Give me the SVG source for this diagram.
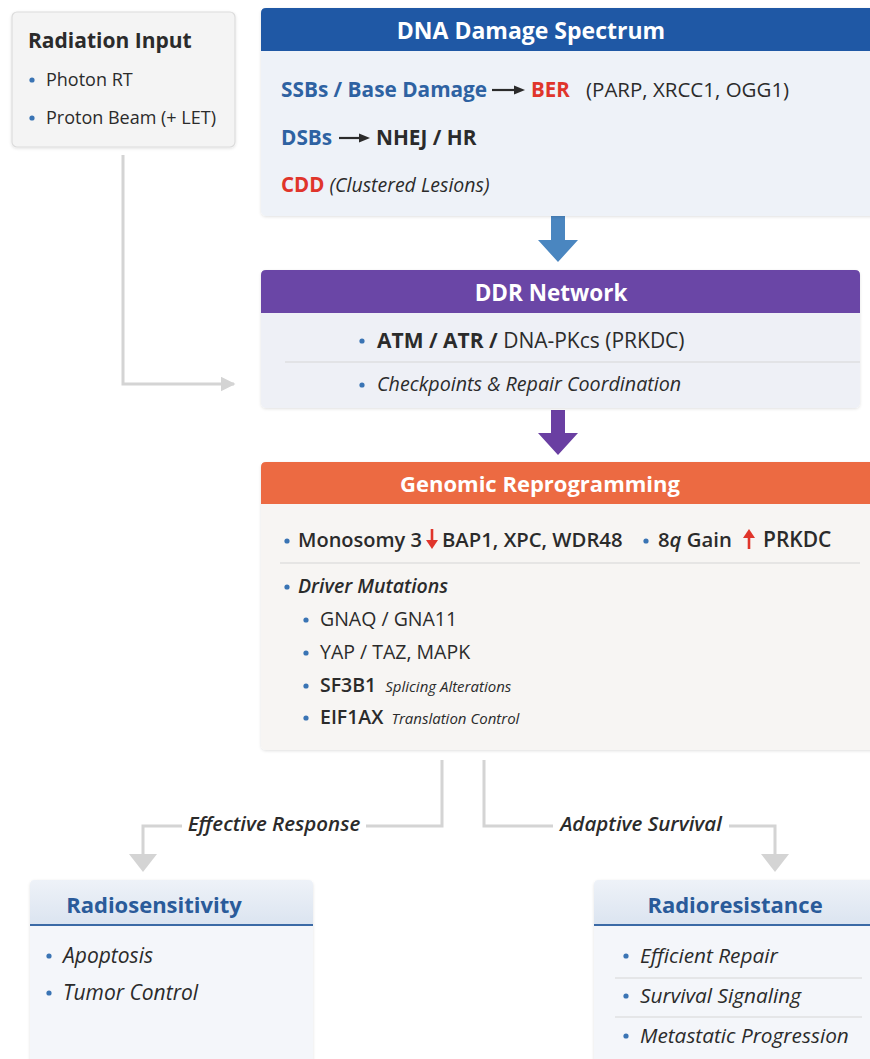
<svg xmlns="http://www.w3.org/2000/svg" width="870" height="1059" viewBox="0 0 870 1059">
<defs>
<style>
text{font-family:"Open Sans","Noto Sans","Liberation Sans",sans-serif;fill:#2b2b2b}
.b{font-weight:700}
.sb{font-weight:600}
.i{font-style:italic}
.hd{fill:#fff;font-weight:700}
.blue{fill:#2e62a2}
.red{fill:#e0352b}
.bul{fill:#3a74b4}
.conn{fill:none;stroke:#d4d4d4;stroke-width:3}
.sep{stroke:#d6d6d6;stroke-width:1.2}
</style>
<linearGradient id="hgrad" x1="0" y1="0" x2="0" y2="1">
<stop offset="0" stop-color="#eef2f8"/><stop offset="1" stop-color="#dbe4f0"/>
</linearGradient>
<filter id="sh" x="-5%" y="-5%" width="110%" height="115%">
<feDropShadow dx="0" dy="1" stdDeviation="1.5" flood-color="#000" flood-opacity="0.12"/>
</filter>
<marker id="ah" viewBox="0 0 10 10" refX="9" refY="5" markerWidth="5" markerHeight="5" orient="auto" markerUnits="strokeWidth">
<path d="M0,0 L10,5 L0,10 z" fill="#d4d4d4"/>
</marker>
</defs>
<rect width="870" height="1059" fill="#ffffff"/>

<g id="connectors">
<polyline class="conn" points="123,155 123,384 234,384" marker-end="url(#ah)"/>
<polyline class="conn" points="442,760 442,826 366,826"/>
<polyline class="conn" points="182,826 143,826 143,856"/>
<path d="M129,854 L157,854 L143,872 z" fill="#d4d4d4"/>
<polyline class="conn" points="484,760 484,826 553,826"/>
<polyline class="conn" points="729,826 775,826 775,856"/>
<path d="M761,854 L789,854 L775,872 z" fill="#d4d4d4"/>
<text x="274" y="831" class="i sb" font-size="20.5" text-anchor="middle">Effective Response</text>
<text x="641" y="831" class="i sb" font-size="20.5" text-anchor="middle">Adaptive Survival</text>
<path d="M551,216 L565,216 L565,240 L578,240 L558,262 L538,240 L551,240 z" fill="#4a86c0"/>
<path d="M551,410 L565,410 L565,433 L578,433 L558,455 L538,433 L551,433 z" fill="#6a3fa2"/>
</g>

<g id="radiation-input">
<rect x="12" y="12" width="223" height="135" rx="5" fill="#f4f4f4" stroke="#dcdcdc" stroke-width="1.2" filter="url(#sh)"/>
<text x="28" y="48" class="b" font-size="21">Radiation Input</text>
<circle cx="32" cy="80" r="2.6" class="bul"/>
<text x="46" y="86" font-size="18">Photon RT</text>
<circle cx="32" cy="118" r="2.6" class="bul"/>
<text x="46" y="124" font-size="18">Proton Beam (+ LET)</text>
</g>

<g id="dna-damage">
<rect x="261" y="8" width="620" height="208" rx="5" fill="#eef2f8" filter="url(#sh)"/>
<path d="M261,51 L261,13 Q261,8 266,8 L870,8 L870,51 z" fill="#1f58a5"/>
<text x="531" y="39" class="hd" font-size="23" text-anchor="middle">DNA Damage Spectrum</text>
<text x="281" y="97" font-size="20.8" class="b blue">SSBs / Base Damage</text>
<path d="M492,90 L516,90" stroke="#2b2b2b" stroke-width="2.2"/>
<path d="M514,85.5 L525,90 L514,94.5 z" fill="#2b2b2b"/>
<text x="531" y="97" font-size="20.5" class="b red">BER</text>
<text x="586" y="97" font-size="20.5">(PARP, XRCC1, OGG1)</text>
<text x="281" y="145" font-size="20.8" class="b blue">DSBs</text>
<path d="M339,138 L361,138" stroke="#2b2b2b" stroke-width="2.2"/>
<path d="M359,133.5 L370,138 L359,142.5 z" fill="#2b2b2b"/>
<text x="376" y="145" font-size="20.8" class="b">NHEJ / HR</text>
<text x="281" y="192" font-size="19.5"><tspan class="b red" font-size="20.5">CDD</tspan><tspan class="i"> (Clustered Lesions)</tspan></text>
</g>

<g id="ddr-network">
<rect x="261" y="270" width="599" height="138" rx="5" fill="#eef0f6" filter="url(#sh)"/>
<path d="M261,313 L261,275 Q261,270 266,270 L855,270 Q860,270 860,275 L860,313 z" fill="#6a46a6"/>
<text x="551" y="301" class="hd" font-size="22.5" text-anchor="middle">DDR Network</text>
<circle cx="362" cy="341" r="2.6" class="bul"/>
<text x="377" y="348" font-size="21"><tspan class="b">ATM / ATR / </tspan><tspan>DNA-PKcs (PRKDC)</tspan></text>
<line x1="285" y1="362" x2="860" y2="362" class="sep"/>
<circle cx="362" cy="385" r="2.6" class="bul"/>
<text x="377" y="391" font-size="19.7" class="i">Checkpoints &amp; Repair Coordination</text>
</g>

<g id="genomic-reprogramming">
<rect x="261" y="462" width="620" height="288" rx="5" fill="#f7f5f3" filter="url(#sh)"/>
<path d="M261,504 L261,467 Q261,462 266,462 L870,462 L870,504 z" fill="#ec6a42"/>
<text x="540" y="492" class="hd" font-size="22" text-anchor="middle">Genomic Reprogramming</text>
<circle cx="287" cy="541" r="2.6" class="bul"/>
<text x="298" y="547" font-size="20" class="sb">Monosomy 3</text>
<path d="M432,529 L432,545" stroke="#e0352b" stroke-width="2.6"/>
<path d="M426,540 L432,549 L438,540 z" fill="#e0352b"/>
<text x="442" y="547" font-size="20.3" class="sb">BAP1, XPC, WDR48</text>
<circle cx="646" cy="541" r="2.6" class="bul"/>
<text x="658" y="547" font-size="20.3" class="sb">8<tspan class="i">q</tspan> Gain</text>
<path d="M749,549 L749,533" stroke="#e0352b" stroke-width="2.6"/>
<path d="M743,538 L749,529 L755,538 z" fill="#e0352b"/>
<text x="763" y="547" font-size="21" class="sb">PRKDC</text>
<line x1="280" y1="563" x2="860" y2="563" class="sep"/>
<circle cx="287" cy="587" r="2.6" class="bul"/>
<text x="298" y="593" font-size="19.5" class="sb i">Driver Mutations</text>
<circle cx="306" cy="620" r="2.6" class="bul"/>
<text x="320" y="626" font-size="19.5">GNAQ / GNA11</text>
<circle cx="306" cy="653" r="2.6" class="bul"/>
<text x="320" y="659" font-size="19.5">YAP / TAZ, MAPK</text>
<circle cx="306" cy="686" r="2.6" class="bul"/>
<text x="320" y="692" font-size="19.5" class="sb">SF3B1<tspan font-size="15" font-weight="400" font-style="italic" dx="9">Splicing Alterations</tspan></text>
<circle cx="306" cy="718" r="2.6" class="bul"/>
<text x="320" y="724" font-size="19.5" class="sb">EIF1AX<tspan font-size="15" font-weight="400" font-style="italic" dx="8">Translation Control</tspan></text>
</g>

<g id="radiosensitivity">
<rect x="30" y="880" width="283" height="190" rx="5" fill="#f4f6fa" filter="url(#sh)"/>
<path d="M30,925 L30,885 Q30,880 35,880 L308,880 Q313,880 313,885 L313,925 z" fill="url(#hgrad)"/>
<line x1="30" y1="925" x2="313" y2="925" stroke="#3b6aa6" stroke-width="2"/>
<text x="154" y="913" class="b" font-size="22" text-anchor="middle" style="fill:#2a5b9a">Radiosensitivity</text>
<circle cx="49" cy="956" r="2.6" class="bul"/>
<text x="63" y="963" class="i" font-size="21">Apoptosis</text>
<circle cx="49" cy="993" r="2.6" class="bul"/>
<text x="63" y="1000" class="i" font-size="21">Tumor Control</text>
</g>

<g id="radioresistance">
<rect x="594" y="880" width="290" height="190" rx="5" fill="#f4f6fa" filter="url(#sh)"/>
<path d="M594,925 L594,885 Q594,880 599,880 L870,880 L870,925 z" fill="url(#hgrad)"/>
<line x1="594" y1="925" x2="870" y2="925" stroke="#3b6aa6" stroke-width="2"/>
<text x="735" y="913" class="b" font-size="22" text-anchor="middle" style="fill:#2a5b9a">Radioresistance</text>
<circle cx="626" cy="956" r="2.6" class="bul"/>
<text x="640" y="963" class="i" font-size="20.8">Efficient Repair</text>
<line x1="615" y1="978" x2="862" y2="978" class="sep"/>
<circle cx="626" cy="996" r="2.6" class="bul"/>
<text x="640" y="1003" class="i" font-size="20.8">Survival Signaling</text>
<line x1="615" y1="1017" x2="862" y2="1017" class="sep"/>
<circle cx="626" cy="1036" r="2.6" class="bul"/>
<text x="640" y="1043" class="i" font-size="20.8">Metastatic Progression</text>
</g>
</svg>
